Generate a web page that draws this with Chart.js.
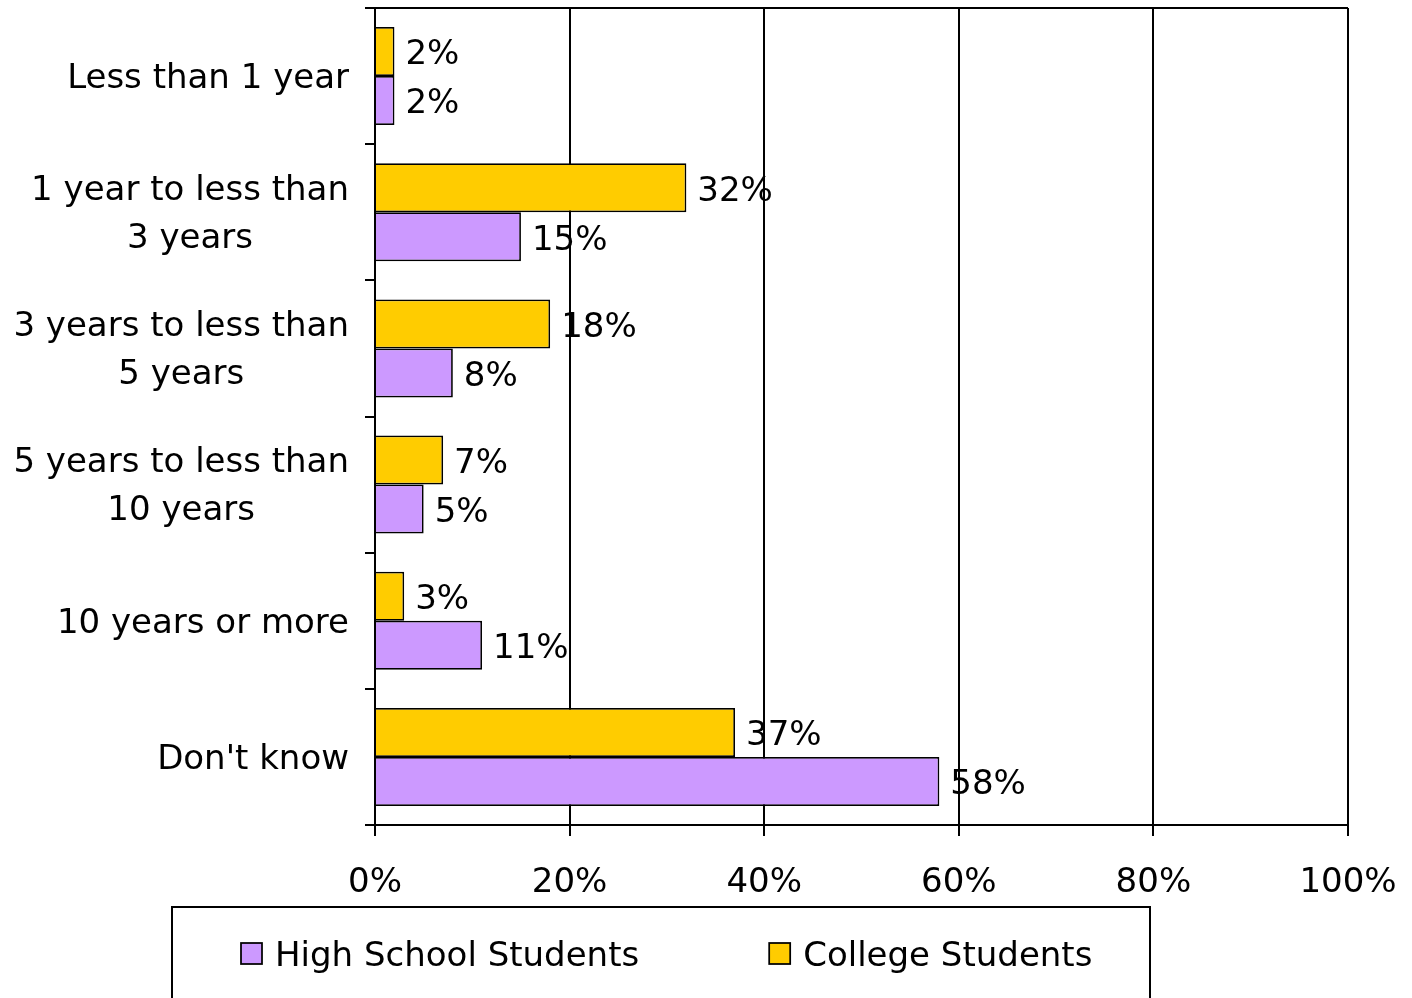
<!DOCTYPE html>
<html>
<head>
<meta charset="utf-8">
<title>Expected time frame</title>
<script src="https://cdn.jsdelivr.net/npm/chart.js@4/dist/chart.umd.min.js"></script>
<style>
  html, body { margin: 0; padding: 0; background: #fff; }
  #wrap { width: 1412px; height: 998px; }
</style>
</head>
<body>
<div id="wrap"><canvas id="chart" width="1412" height="998"></canvas></div>
<script>
// Answer categories (multi-line labels)
const categories = [
  ["Less than 1 year"],
  ["1 year to less than", "3 years"],
  ["3 years to less than", "5 years"],
  ["5 years to less than", "10 years"],
  ["10 years or more"],
  ["Don't know"]
];
// Percent of respondents
const collegeValues    = [2, 32, 18, 7, 3, 37];
const highSchoolValues = [2, 15, 8, 5, 11, 58];
// Axis range and tick step (percent)
const axisMin = 0, axisMax = 100, axisStep = 20;
// Legend order
const legendOrder = ["High School Students", "College Students"];

const FONT = '"DejaVu Sans", Verdana, sans-serif';
const FONT_SIZE = 34;
const TEXT_NUDGE = 3; // DejaVu sits a little high with 'middle' baseline
const BLACK = '#000000';
Chart.defaults.font.family = FONT;
Chart.defaults.color = BLACK;

// Category labels: each block right-aligned to the axis, its lines centred within the block
const categoryLabels = {
  id: 'categoryLabels',
  afterDraw(chart) {
    const ys = chart.scales.y;
    const c = chart.ctx;
    c.save();
    c.font = FONT_SIZE + 'px ' + FONT;
    c.fillStyle = BLACK;
    c.textAlign = 'center';
    c.textBaseline = 'middle';
    const lineH = 48;
    const rightEdge = ys.right - 26;
    categories.forEach((lines, i) => {
      const w = Math.max(...lines.map(l => c.measureText(l).width));
      const cx = rightEdge - w / 2;
      const cy = ys.getPixelForTick(i) + TEXT_NUDGE;
      const y0 = cy - (lines.length - 1) * lineH / 2;
      lines.forEach((l, k) => c.fillText(l, cx, y0 + k * lineH));
    });
    c.restore();
  }
};

// Value labels just past the end of each bar
const valueLabels = {
  id: 'valueLabels',
  afterDatasetsDraw(chart) {
    const c = chart.ctx;
    c.save();
    c.font = FONT_SIZE + 'px ' + FONT;
    c.fillStyle = BLACK;
    c.textAlign = 'left';
    c.textBaseline = 'middle';
    chart.data.datasets.forEach((ds, di) => {
      chart.getDatasetMeta(di).data.forEach((bar, i) => {
        c.fillText(ds.data[i] + '%', bar.x + 11, bar.y + 1 + TEXT_NUDGE);
      });
    });
    c.restore();
  }
};

// Boxed legend below the axis
const boxedLegend = {
  id: 'boxedLegend',
  afterDraw(chart) {
    const c = chart.ctx;
    const boxLeft = 172, boxTop = 907, boxRight = 1150;
    c.save();
    c.lineWidth = 2;
    c.strokeStyle = BLACK;
    c.strokeRect(boxLeft, boxTop, boxRight - boxLeft, 200);
    c.font = FONT_SIZE + 'px ' + FONT;
    c.textAlign = 'left';
    c.textBaseline = 'middle';
    const cy = 954;
    let x = boxLeft + 69;
    legendOrder.forEach(name => {
      const ds = chart.data.datasets.find(d => d.label === name);
      c.fillStyle = ds.backgroundColor;
      c.fillRect(x, cy - 11, 21, 21);
      c.lineWidth = 1.75;
      c.strokeRect(x, cy - 11, 21, 21);
      c.fillStyle = BLACK;
      c.fillText(name, x + 34, cy + TEXT_NUDGE);
      x += 34 + c.measureText(name).width + 130;
    });
    c.restore();
  }
};

new Chart(document.getElementById('chart'), {
  type: 'bar',
  data: {
    labels: categories,
    datasets: [
      {
        label: 'College Students',
        data: collegeValues,
        backgroundColor: '#FFCC00',
        borderColor: BLACK,
        borderWidth: 1.75,
        categoryPercentage: 0.72,
        barPercentage: 1.0
      },
      {
        label: 'High School Students',
        data: highSchoolValues,
        backgroundColor: '#CC99FF',
        borderColor: BLACK,
        borderWidth: 1.75,
        categoryPercentage: 0.72,
        barPercentage: 1.0
      }
    ]
  },
  options: {
    indexAxis: 'y',
    responsive: false,
    animation: false,
    layout: { padding: { left: 15, right: 64, top: 8, bottom: 0 } },
    plugins: {
      legend: { display: false },
      tooltip: { enabled: false }
    },
    scales: {
      x: {
        type: 'linear',
        min: axisMin,
        max: axisMax,
        ticks: {
          stepSize: axisStep,
          callback: v => v + '%',
          font: { size: FONT_SIZE },
          color: BLACK,
          padding: 27,
          maxRotation: 0
        },
        grid: {
          color: BLACK,
          lineWidth: 2,
          tickLength: 11,
          tickColor: BLACK
        },
        border: { display: true, color: BLACK, width: 2 },
        afterFit(scale) {
          scale.height = 173;
          scale.paddingLeft = 0;
          scale.paddingRight = 0;
        }
      },
      y: {
        type: 'category',
        ticks: {
          color: 'rgba(0,0,0,0)',
          font: { size: FONT_SIZE },
          padding: 15
        },
        grid: {
          offset: true,
          color: ctx => ctx.index === 0 ? BLACK : 'rgba(0,0,0,0)',
          tickColor: BLACK,
          lineWidth: 2,
          tickLength: 10
        },
        border: { display: true, color: BLACK, width: 2 },
        afterFit(scale) {
          scale.width = 360;
          scale.paddingTop = 0;
          scale.paddingBottom = 0;
        }
      }
    }
  },
  plugins: [categoryLabels, valueLabels, boxedLegend]
});
</script>
</body>
</html>
